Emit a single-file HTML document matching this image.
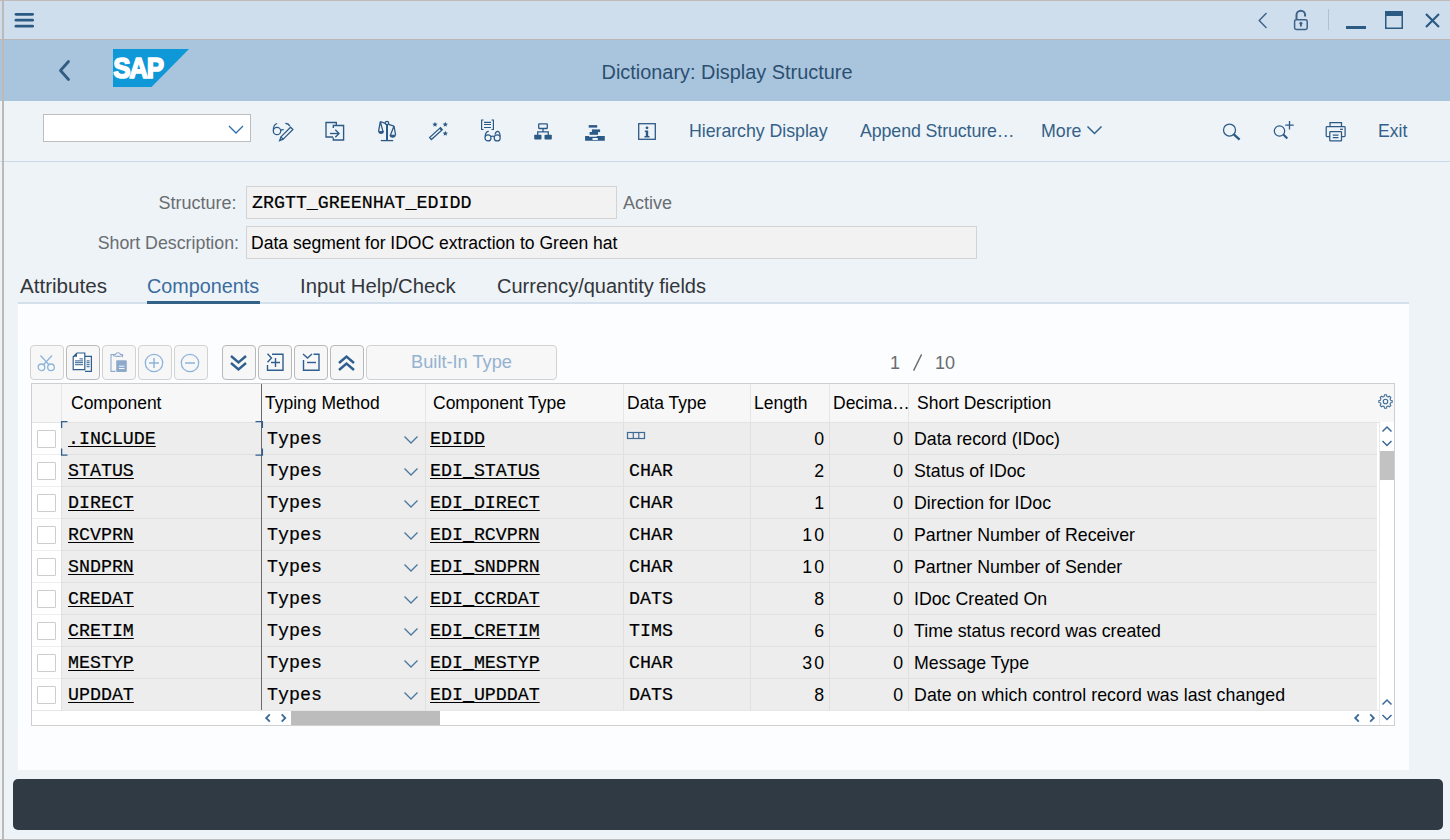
<!DOCTYPE html>
<html><head><meta charset="utf-8"><style>
*{margin:0;padding:0;box-sizing:border-box}
html,body{width:1450px;height:840px;overflow:hidden;background:#eef3f8;font-family:"Liberation Sans",sans-serif;}
.a{position:absolute;white-space:nowrap}
.mono{font-family:"Liberation Mono",monospace;-webkit-text-stroke:0.2px #000}
.tbtxt{font-size:17.8px;color:#346187;top:120.8px;line-height:20px}
.lbl{font-size:18px;color:#6a6d70;line-height:20px}
.tab{font-size:19.5px;color:#32363a;top:275.5px;line-height:20px}
.tbtn{top:345px;height:35px;width:34px;background:#f7f7f7;border:1px solid #d2d2d2;border-radius:4px}
.tbtn.en{border-color:#b9b9b9}
.hd{font-size:17.5px;color:#000;line-height:20px;top:393px}
.td{height:32px;line-height:32px;font-size:17.75px;color:#000}
.tm{height:32px;line-height:35px;font-size:18.3px;color:#000}
.lnk{text-decoration:underline;text-underline-offset:2px;text-decoration-thickness:1.2px}
.cbx{width:19px;height:18px;background:#fff;border:1px solid #cdcdcd;border-radius:1px}
svg{overflow:visible}
</style></head><body>
<div class="a" style="left:0;top:0;width:1450px;height:40px;background:#cfdeec;border-top:1px solid #bfbab7;border-bottom:1px solid #b9b6b5"></div>
<div class="a" style="left:0;top:40px;width:1450px;height:61px;background:#a9c5de"></div>
<div class="a" style="left:0;top:101px;width:1450px;height:61px;background:#eef3f8;border-bottom:1px solid #c9dbea"></div>
<div class="a" style="left:18px;top:304px;width:1391px;height:466px;background:#fcfdfe"></div>
<div class="a" style="left:18px;top:302px;width:1391px;height:2px;background:#d4e1ed"></div>
<div class="a" style="left:13px;top:779px;width:1430px;height:51px;background:#2f3a45;border-radius:5px"></div>
<div class="a" style="left:0;top:839px;width:1450px;height:1px;background:#bdbdbd"></div>
<div class="a" style="left:2px;top:0;width:2px;height:840px;background:#bcb9b7;z-index:50"></div>
<svg class="a" style="left:12px;top:12px" width="24" height="17" viewBox="0 0 24 17"><g stroke="#2b5a82" stroke-width="2.8" stroke-linecap="round"><line x1="4" y1="2.3" x2="20.6" y2="2.3"/><line x1="4" y1="8.2" x2="20.6" y2="8.2"/><line x1="4" y1="14.2" x2="20.6" y2="14.2"/></g></svg>
<svg class="a" style="left:1256px;top:11px" width="14" height="19" viewBox="0 0 14 19"><path d="M10.5 2 L3.2 9.5 L10.5 17" fill="none" stroke="#3d6288" stroke-width="1.4"/></svg>
<svg class="a" style="left:1292px;top:9px" width="18" height="22" viewBox="0 0 18 22"><path d="M4.5 10 V6 A4.3 4.3 0 0 1 13.1 6 V7.5" fill="none" stroke="#3d6288" stroke-width="2"/><rect x="2.6" y="10.8" width="12.6" height="9.6" rx="1.6" fill="none" stroke="#3d6288" stroke-width="1.5"/><circle cx="8.9" cy="14.3" r="1.5" fill="#3d6288"/><rect x="8" y="14.3" width="1.8" height="3.3" fill="#3d6288"/></svg>
<div class="a" style="left:1328px;top:9px;width:1px;height:21px;background:#b4bfcb"></div>
<div class="a" style="left:1346px;top:26px;width:20px;height:3px;background:#2b5a82"></div>
<svg class="a" style="left:1385px;top:11px" width="18" height="18" viewBox="0 0 18 18"><rect x="0.75" y="0.75" width="16.5" height="16.5" fill="none" stroke="#2b5a82" stroke-width="1.5"/><rect x="0" y="0" width="18" height="5" fill="#2b5a82"/></svg>
<svg class="a" style="left:1425px;top:13px" width="15" height="15" viewBox="0 0 15 15"><path d="M1 1 L14 14 M14 1 L1 14" stroke="#2b5a82" stroke-width="2.2"/></svg>
<svg class="a" style="left:56px;top:58px" width="18" height="26" viewBox="0 0 18 26"><path d="M12.5 3.5 L4.5 12.5 L12.5 21.5" fill="none" stroke="#345b82" stroke-width="2.8" stroke-linecap="round" stroke-linejoin="round"/></svg>
<svg class="a" style="left:113px;top:49px" width="76" height="38" viewBox="0 0 76 38"><polygon points="0,0 76,0 38.5,38 0,38" fill="#0f98d8"/><text transform="scale(0.865,1)" x="0.3" y="29" font-family="Liberation Sans" font-weight="bold" font-size="30" fill="#fff" stroke="#fff" stroke-width="1.7" stroke-linejoin="round" letter-spacing="-1.4">SAP</text></svg>
<div class="a" style="left:0;top:60.7px;width:1450px;text-align:center;font-size:19.9px;line-height:22px;color:#2c4f70;padding-left:4px">Dictionary: Display Structure</div>
<div class="a" style="left:43px;top:114px;width:208px;height:28px;background:#fff;border:1px solid #bdbdbd"></div>
<svg class="a" style="left:226px;top:123px" width="20" height="12" viewBox="0 0 20 12"><path d="M3 3 L10 10 L17 3" fill="none" stroke="#3470aa" stroke-width="1.4"/></svg>
<svg class="a" style="left:272px;top:121px" width="22" height="21" viewBox="0 0 22 21"><g fill="none" stroke="#2c5a86" stroke-width="1.25"><circle cx="5" cy="10" r="3.7"/><path d="M1.4 9.5 Q1.3 3.2 5.2 2.5"/><path d="M13.3 2.3 Q16.8 2.3 17.8 5.3"/><path d="M8.6 9.3 Q10.2 8 11.8 9"/><path d="M18.6 6.2 L20.9 8.5 L11.2 18.2 L8.9 15.9 Z"/><path d="M8.9 15.9 L7.6 19.6 L11.2 18.2"/></g><path d="M7.6 19.6 L8.4 17.4 L9.8 18.8Z" fill="#2c5a86"/></svg>
<svg class="a" style="left:324px;top:121px" width="22" height="21" viewBox="0 0 22 21"><g fill="none" stroke="#2c5a86" stroke-width="1.35"><path d="M9 16 H2 V1.5 H12.3 V4.5"/><path d="M9.3 7 V4.5 H19.6 V19 H9.3 V16.5"/><path d="M6 12.5 H15"/><path d="M11.3 8.8 L15 12.5 L11.3 16.2"/></g></svg>
<svg class="a" style="left:377px;top:120px" width="20" height="22" viewBox="0 0 20 22"><g fill="none" stroke="#2c5a86" stroke-width="1.3"><circle cx="10" cy="3" r="1.7"/><path d="M3.3 1.7 L8.4 3.3 M11.6 4.3 L17 6.1"/><path d="M10 4.7 V20.5"/><path d="M3.8 20.6 H16.2"/><path d="M3.3 1.7 L1.6 11.2 M3.3 1.7 L5.9 11.2"/><path d="M17 6.1 L13.5 15 M17 6.1 L18.6 15"/></g><path d="M10 4.7 V20.5" stroke="#2c5a86" stroke-width="2"/><path d="M1.1 11 H7 Q6.8 14 4.05 14 Q1.3 14 1.1 11Z" fill="#2c5a86"/><path d="M12.5 14.8 H18.9 Q18.7 17.8 15.7 17.8 Q12.7 17.8 12.5 14.8Z" fill="#2c5a86"/></svg>
<svg class="a" style="left:429px;top:121px" width="21" height="20" viewBox="0 0 21 20"><path d="M2.4 18.5 L0.6 16.5 L11.5 6.6 L13.3 8.6Z" fill="none" stroke="#2c5a86" stroke-width="1.25"/><path d="M10.3 7.7 L11.5 6.6 L13.3 8.6 L12.1 9.7Z" fill="#2c5a86"/><path d="M6.00 0.70 L6.74 2.48 L8.66 2.63 L7.20 3.89 L7.65 5.77 L6.00 4.76 L4.35 5.77 L4.80 3.89 L3.34 2.63 L5.26 2.48ZM16.30 0.70 L17.04 2.48 L18.96 2.63 L17.50 3.89 L17.95 5.77 L16.30 4.76 L14.65 5.77 L15.10 3.89 L13.64 2.63 L15.56 2.48ZM16.30 9.80 L17.04 11.58 L18.96 11.73 L17.50 12.99 L17.95 14.87 L16.30 13.86 L14.65 14.87 L15.10 12.99 L13.64 11.73 L15.56 11.58Z" fill="#2c5a86"/></svg>
<svg class="a" style="left:480px;top:119px" width="22" height="23" viewBox="0 0 22 23"><g fill="none" stroke="#2c5a86" stroke-width="1.2"><path d="M3.5 1 H1.6 V10.5 H3.5"/><path d="M11.5 1 H13.4 V10.5 H11.5"/><path d="M4 3.3 H11 M4 5.5 H11 M4 8.5 H11"/><circle cx="8" cy="18.9" r="3"/><circle cx="17.2" cy="18.9" r="3"/><path d="M11 17.6 Q12.6 16.6 14.2 17.6"/><path d="M5.2 17.5 Q5.3 12.3 8.8 12.3"/><path d="M15 15.5 Q15.7 12.2 18 12.4 Q19.8 12.8 20.2 17.5"/></g></svg>
<svg class="a" style="left:533px;top:122px" width="20" height="19" viewBox="0 0 20 19"><rect x="5.7" y="1.9" width="8.6" height="4.6" rx="0.5" fill="none" stroke="#2c5a86" stroke-width="1.3"/><path d="M10 6.5 V9.8 M4.7 13 V9.8 H15.3 V13" fill="none" stroke="#2c5a86" stroke-width="1.3"/><rect x="1.2" y="12.8" width="7.3" height="4.8" rx="0.8" fill="#2c5a86"/><rect x="11.5" y="12.8" width="7.3" height="4.8" rx="0.8" fill="#2c5a86"/></svg>
<svg class="a" style="left:584px;top:123px" width="22" height="19" viewBox="0 0 22 19"><g fill="#2c5a86"><rect x="4.7" y="2.1" width="8.5" height="2.5"/><rect x="7.9" y="6.4" width="8.2" height="2.7"/><rect x="5.6" y="9" width="8.4" height="2.8"/><path d="M1.1 13 H5 V13.8 H12.7 V13 H20.8 V17.8 H1.1Z M8.5 15.1 V16.9 H13.8 V15.1Z" fill-rule="evenodd"/></g></svg>
<svg class="a" style="left:638px;top:123px" width="18" height="18" viewBox="0 0 18 18"><rect x="0.7" y="0.7" width="16.6" height="15.6" fill="none" stroke="#2c5a86" stroke-width="1.3"/><circle cx="9" cy="4.8" r="1.4" fill="#2c5a86"/><path d="M6.8 7.5 H10.2 V13 H11.5 V14.5 H6.5 V13 H7.8 V9 H6.8Z" fill="#2c5a86"/></svg>
<div class="a tbtxt" style="left:689px;letter-spacing:-0.05px">Hierarchy Display</div>
<div class="a tbtxt" style="left:860px;letter-spacing:-0.1px">Append Structure<span style="letter-spacing:-1.5px">…</span></div>
<div class="a tbtxt" style="left:1041px">More</div>
<svg class="a" style="left:1086px;top:124px" width="18" height="12" viewBox="0 0 18 12"><path d="M1.5 2.5 L8.5 9.5 L15.5 2.5" fill="none" stroke="#346187" stroke-width="1.5"/></svg>
<svg class="a" style="left:1222px;top:123px" width="20" height="18" viewBox="0 0 20 18"><circle cx="7.5" cy="7" r="6" fill="none" stroke="#2c5a86" stroke-width="1.25"/><path d="M11.8 11.3 L17.6 16.6" stroke="#2c5a86" stroke-width="2.3" stroke-linecap="butt"/></svg>
<svg class="a" style="left:1273px;top:120px" width="22" height="21" viewBox="0 0 22 21"><circle cx="6.5" cy="11" r="5.2" fill="none" stroke="#2c5a86" stroke-width="1.25"/><path d="M10.3 14.5 L14.3 18.6" stroke="#2c5a86" stroke-width="2.1"/><path d="M16.5 1 V9.5 M12.3 5.2 H20.7" stroke="#2c5a86" stroke-width="1.3"/></svg>
<svg class="a" style="left:1325px;top:121px" width="22" height="21" viewBox="0 0 22 21"><g fill="none" stroke="#2c5a86" stroke-width="1.25"><path d="M5 5.5 V1.5 H16.5 V5.5"/><path d="M5 15.5 H2 Q1.2 15.5 1.2 14.7 V6.5 Q1.2 5.7 2 5.7 H19.3 Q20.1 5.7 20.1 6.5 V14.7 Q20.1 15.5 19.3 15.5 H16.5"/><rect x="4.8" y="10.5" width="11.7" height="9.3" rx="0.6"/><path d="M7.8 14.2 H13.5 M7.8 16.6 H13.5"/></g><path d="M15 8.3 H18" stroke="#2c5a86" stroke-width="1.2"/></svg>
<div class="a tbtxt" style="left:1378px;font-size:17.6px">Exit</div>
<div class="a lbl" style="left:40px;top:193px;width:196.5px;text-align:right">Structure:</div>
<div class="a" style="left:246px;top:186px;width:371px;height:33px;background:#f2f2f2;border:1px solid #d3d3d3"></div>
<div class="a mono" style="left:252px;top:193px;font-size:18.3px;line-height:20px;color:#000">ZRGTT_GREENHAT_EDIDD</div>
<div class="a lbl" style="left:623px;top:193px">Active</div>
<div class="a lbl" style="left:40px;top:233px;width:199px;text-align:right;font-size:17.8px">Short Description:</div>
<div class="a" style="left:246px;top:226px;width:731px;height:33px;background:#f2f2f2;border:1px solid #d3d3d3"></div>
<div class="a" style="left:251px;top:233px;font-size:17.55px;line-height:20px;color:#000">Data segment for IDOC extraction to Green hat</div>
<div class="a tab" style="left:20px;font-size:20.6px">Attributes</div>
<div class="a tab" style="left:147px;color:#3b6c9e;font-size:19.8px">Components</div>
<div class="a tab" style="left:300px;font-size:20.3px">Input Help/Check</div>
<div class="a tab" style="left:497px;font-size:20px">Currency/quantity fields</div>
<div class="a" style="left:147px;top:301px;width:113px;height:3px;background:#346187"></div>
<div class="a tbtn" style="left:30px"></div>
<div class="a tbtn en" style="left:66px"></div>
<div class="a tbtn" style="left:102px"></div>
<div class="a tbtn" style="left:138px"></div>
<div class="a tbtn" style="left:174px"></div>
<div class="a tbtn en" style="left:222px"></div>
<div class="a tbtn en" style="left:258px"></div>
<div class="a tbtn en" style="left:294px"></div>
<div class="a tbtn en" style="left:330px"></div>
<div class="a tbtn" style="left:366px;width:191px"></div>
<div class="a" style="left:366px;top:352px;width:191px;text-align:center;font-size:18.2px;line-height:20px;color:#94b2d0">Built-In Type</div>
<svg class="a" style="left:37px;top:354px" width="19" height="18" viewBox="0 0 19 18"><g fill="none" stroke="#8db4da" stroke-width="1.3"><circle cx="4.5" cy="13.3" r="3.3"/><circle cx="14" cy="13.3" r="3.3"/><path d="M6.5 10.8 L15 1.5 M12 10.8 L3.5 1.5"/></g></svg>
<svg class="a" style="left:72px;top:352px" width="21" height="21" viewBox="0 0 21 21"><path d="M12.5 4.3 H19.4 V19.3 H13" fill="none" stroke="#2f5f8f" stroke-width="1.2"/><path d="M5 1 H12.8 V17.7 H1.2 V4.8Z" fill="#fff" stroke="#2f5f8f" stroke-width="1.2"/><path d="M1.2 4.8 H5 V1Z" fill="#2f5f8f"/><path d="M7.5 6.9 H11 M3 8.9 H11 M3 10.7 H11 M3 12.7 H11" stroke="#2f5f8f" stroke-width="1"/><path d="M14.6 8.9 H17.6 M14.6 10.7 H17.6 M14.6 12.7 H17.6 M14.6 14.7 H17.6" stroke="#2f5f8f" stroke-width="1"/></svg>
<svg class="a" style="left:110px;top:352px" width="18" height="21" viewBox="0 0 18 21"><path d="M3.5 2.5 H1 V19.4 H5.5" fill="none" stroke="#8eaacb" stroke-width="1.1"/><path d="M12.5 5.3 V2.5 H10.5 Q10 0.8 8 0.8 Q6 0.8 5.5 2.5 H3.5 V3.8 Q8 5 12.5 3.8" fill="none" stroke="#8eaacb" stroke-width="1.1"/><rect x="6.2" y="8.3" width="10.6" height="11.6" rx="1" fill="#8eaacb"/><path d="M9 14.2 H14.5 M9 16.5 H14.5" stroke="#f7f7f7" stroke-width="1"/></svg>
<svg class="a" style="left:144px;top:353px" width="20" height="20" viewBox="0 0 20 20"><circle cx="10" cy="10" r="8.7" fill="none" stroke="#8db4da" stroke-width="1.3"/><path d="M10 5 V15 M5 10 H15" stroke="#8db4da" stroke-width="1.5"/></svg>
<svg class="a" style="left:180px;top:353px" width="20" height="20" viewBox="0 0 20 20"><circle cx="10" cy="10" r="8.7" fill="none" stroke="#8db4da" stroke-width="1.3"/><path d="M5 10 H15" stroke="#8db4da" stroke-width="1.5"/></svg>
<svg class="a" style="left:229px;top:354px" width="19" height="18" viewBox="0 0 19 18"><g fill="none" stroke="#2f5f8f" stroke-width="2.4"><path d="M2 2 L9.5 8.5 L17 2"/><path d="M2 9 L9.5 15.5 L17 9"/></g></svg>
<svg class="a" style="left:266px;top:353px" width="19" height="19" viewBox="0 0 19 19"><g fill="none" stroke="#2f5f8f" stroke-width="1.4"><path d="M1.5 0.8 L5.5 5 L1.5 9.2"/><path d="M6 1.3 H17 V17.3 H1.5 V12"/><path d="M9.5 5 V14 M5 9.5 H14"/></g></svg>
<svg class="a" style="left:302px;top:353px" width="19" height="19" viewBox="0 0 19 19"><g fill="none" stroke="#2f5f8f" stroke-width="1.4"><path d="M1 1 L5.5 5 L10 1"/><path d="M11.5 1.3 H17 V17.3 H1.5 V7"/><path d="M5 9.5 H14"/></g></svg>
<svg class="a" style="left:337px;top:354px" width="19" height="18" viewBox="0 0 19 18"><g fill="none" stroke="#2f5f8f" stroke-width="2.4"><path d="M2 9 L9.5 2.5 L17 9"/><path d="M2 16 L9.5 9.5 L17 16"/></g></svg>
<div class="a" style="left:890px;top:353px;font-size:18px;line-height:20px;color:#6a6d70">1</div>
<svg class="a" style="left:911px;top:354px" width="12" height="17" viewBox="0 0 12 17"><path d="M2.6 16.6 L10.6 0.4" stroke="#6a6d70" stroke-width="1.4"/></svg>
<div class="a" style="left:935px;top:353px;font-size:18px;line-height:20px;color:#6a6d70">10</div>
<div class="a" style="left:31px;top:383px;width:1364px;height:343px;background:#fff;border:1px solid #cfcfcf"></div>
<div class="a" style="left:32px;top:384px;width:1362px;height:39px;background:#f7f7f7;border-bottom:1px solid #e3e3e3"></div>
<div class="a hd" style="left:71px">Component</div>
<div class="a hd" style="left:265px">Typing Method</div>
<div class="a hd" style="left:433px">Component Type</div>
<div class="a hd" style="left:627px">Data Type</div>
<div class="a hd" style="left:754px">Length</div>
<div class="a hd" style="left:833px">Decima<span style="letter-spacing:-1px">…</span></div>
<div class="a hd" style="left:917px">Short Description</div>
<div class="a" style="left:61px;top:384px;width:1px;height:38px;background:#e6e6e6"></div>
<div class="a" style="left:425px;top:384px;width:1px;height:38px;background:#e6e6e6"></div>
<div class="a" style="left:623px;top:384px;width:1px;height:38px;background:#e6e6e6"></div>
<div class="a" style="left:750px;top:384px;width:1px;height:38px;background:#e6e6e6"></div>
<div class="a" style="left:829px;top:384px;width:1px;height:38px;background:#e6e6e6"></div>
<div class="a" style="left:908px;top:384px;width:1px;height:38px;background:#e6e6e6"></div>
<div class="a" style="left:62px;top:423px;width:1315px;height:32px;background:#ededed;border-bottom:1px solid #e0e0e0"></div>
<div class="a" style="left:32px;top:423px;width:29px;height:32px;background:#fff;border-bottom:1px solid #ededed"></div>
<div class="a cbx" style="left:37px;top:430px"></div>
<div class="a mono lnk tm" style="left:68px;top:422px">.INCLUDE</div>
<div class="a mono tm" style="left:267px;top:422px">Types</div>
<svg class="a" style="left:403px;top:435px" width="16" height="10" viewBox="0 0 16 10"><path d="M1.5 1.5 L8 8 L14.5 1.5" fill="none" stroke="#4a76a2" stroke-width="1.3"/></svg>
<div class="a mono lnk tm" style="left:430px;top:422px">EDIDD</div>
<svg class="a" style="left:626px;top:431px" width="20" height="9" viewBox="0 0 20 9"><rect x="1.5" y="1.5" width="17" height="6" fill="none" stroke="#3f6a96" stroke-width="1.2"/><line x1="7.3" y1="1.5" x2="7.3" y2="7.5" stroke="#3f6a96" stroke-width="1.2"/><line x1="12.8" y1="1.5" x2="12.8" y2="7.5" stroke="#3f6a96" stroke-width="1.2"/></svg>
<div class="a td" style="left:750px;top:423px;width:74px;text-align:right">0</div>
<div class="a td" style="left:829px;top:423px;width:74px;text-align:right">0</div>
<div class="a td" style="left:914px;top:423px">Data record (IDoc)</div>
<div class="a" style="left:62px;top:455px;width:1315px;height:32px;background:#ededed;border-bottom:1px solid #e0e0e0"></div>
<div class="a" style="left:32px;top:455px;width:29px;height:32px;background:#fff;border-bottom:1px solid #ededed"></div>
<div class="a cbx" style="left:37px;top:462px"></div>
<div class="a mono lnk tm" style="left:68px;top:454px">STATUS</div>
<div class="a mono tm" style="left:267px;top:454px">Types</div>
<svg class="a" style="left:403px;top:467px" width="16" height="10" viewBox="0 0 16 10"><path d="M1.5 1.5 L8 8 L14.5 1.5" fill="none" stroke="#4a76a2" stroke-width="1.3"/></svg>
<div class="a mono lnk tm" style="left:430px;top:454px">EDI_STATUS</div>
<div class="a mono tm" style="left:629px;top:454px">CHAR</div>
<div class="a td" style="left:750px;top:455px;width:74px;text-align:right">2</div>
<div class="a td" style="left:829px;top:455px;width:74px;text-align:right">0</div>
<div class="a td" style="left:914px;top:455px">Status of IDoc</div>
<div class="a" style="left:62px;top:487px;width:1315px;height:32px;background:#ededed;border-bottom:1px solid #e0e0e0"></div>
<div class="a" style="left:32px;top:487px;width:29px;height:32px;background:#fff;border-bottom:1px solid #ededed"></div>
<div class="a cbx" style="left:37px;top:494px"></div>
<div class="a mono lnk tm" style="left:68px;top:486px">DIRECT</div>
<div class="a mono tm" style="left:267px;top:486px">Types</div>
<svg class="a" style="left:403px;top:499px" width="16" height="10" viewBox="0 0 16 10"><path d="M1.5 1.5 L8 8 L14.5 1.5" fill="none" stroke="#4a76a2" stroke-width="1.3"/></svg>
<div class="a mono lnk tm" style="left:430px;top:486px">EDI_DIRECT</div>
<div class="a mono tm" style="left:629px;top:486px">CHAR</div>
<div class="a td" style="left:750px;top:487px;width:74px;text-align:right">1</div>
<div class="a td" style="left:829px;top:487px;width:74px;text-align:right">0</div>
<div class="a td" style="left:914px;top:487px">Direction for IDoc</div>
<div class="a" style="left:62px;top:519px;width:1315px;height:32px;background:#ededed;border-bottom:1px solid #e0e0e0"></div>
<div class="a" style="left:32px;top:519px;width:29px;height:32px;background:#fff;border-bottom:1px solid #ededed"></div>
<div class="a cbx" style="left:37px;top:526px"></div>
<div class="a mono lnk tm" style="left:68px;top:518px">RCVPRN</div>
<div class="a mono tm" style="left:267px;top:518px">Types</div>
<svg class="a" style="left:403px;top:531px" width="16" height="10" viewBox="0 0 16 10"><path d="M1.5 1.5 L8 8 L14.5 1.5" fill="none" stroke="#4a76a2" stroke-width="1.3"/></svg>
<div class="a mono lnk tm" style="left:430px;top:518px">EDI_RCVPRN</div>
<div class="a mono tm" style="left:629px;top:518px">CHAR</div>
<div class="a td" style="left:750px;top:519px;width:74px;text-align:right"><span style="letter-spacing:2px">1</span>0</div>
<div class="a td" style="left:829px;top:519px;width:74px;text-align:right">0</div>
<div class="a td" style="left:914px;top:519px">Partner Number of Receiver</div>
<div class="a" style="left:62px;top:551px;width:1315px;height:32px;background:#ededed;border-bottom:1px solid #e0e0e0"></div>
<div class="a" style="left:32px;top:551px;width:29px;height:32px;background:#fff;border-bottom:1px solid #ededed"></div>
<div class="a cbx" style="left:37px;top:558px"></div>
<div class="a mono lnk tm" style="left:68px;top:550px">SNDPRN</div>
<div class="a mono tm" style="left:267px;top:550px">Types</div>
<svg class="a" style="left:403px;top:563px" width="16" height="10" viewBox="0 0 16 10"><path d="M1.5 1.5 L8 8 L14.5 1.5" fill="none" stroke="#4a76a2" stroke-width="1.3"/></svg>
<div class="a mono lnk tm" style="left:430px;top:550px">EDI_SNDPRN</div>
<div class="a mono tm" style="left:629px;top:550px">CHAR</div>
<div class="a td" style="left:750px;top:551px;width:74px;text-align:right"><span style="letter-spacing:2px">1</span>0</div>
<div class="a td" style="left:829px;top:551px;width:74px;text-align:right">0</div>
<div class="a td" style="left:914px;top:551px">Partner Number of Sender</div>
<div class="a" style="left:62px;top:583px;width:1315px;height:32px;background:#ededed;border-bottom:1px solid #e0e0e0"></div>
<div class="a" style="left:32px;top:583px;width:29px;height:32px;background:#fff;border-bottom:1px solid #ededed"></div>
<div class="a cbx" style="left:37px;top:590px"></div>
<div class="a mono lnk tm" style="left:68px;top:582px">CREDAT</div>
<div class="a mono tm" style="left:267px;top:582px">Types</div>
<svg class="a" style="left:403px;top:595px" width="16" height="10" viewBox="0 0 16 10"><path d="M1.5 1.5 L8 8 L14.5 1.5" fill="none" stroke="#4a76a2" stroke-width="1.3"/></svg>
<div class="a mono lnk tm" style="left:430px;top:582px">EDI_CCRDAT</div>
<div class="a mono tm" style="left:629px;top:582px">DATS</div>
<div class="a td" style="left:750px;top:583px;width:74px;text-align:right">8</div>
<div class="a td" style="left:829px;top:583px;width:74px;text-align:right">0</div>
<div class="a td" style="left:914px;top:583px">IDoc Created On</div>
<div class="a" style="left:62px;top:615px;width:1315px;height:32px;background:#ededed;border-bottom:1px solid #e0e0e0"></div>
<div class="a" style="left:32px;top:615px;width:29px;height:32px;background:#fff;border-bottom:1px solid #ededed"></div>
<div class="a cbx" style="left:37px;top:622px"></div>
<div class="a mono lnk tm" style="left:68px;top:614px">CRETIM</div>
<div class="a mono tm" style="left:267px;top:614px">Types</div>
<svg class="a" style="left:403px;top:627px" width="16" height="10" viewBox="0 0 16 10"><path d="M1.5 1.5 L8 8 L14.5 1.5" fill="none" stroke="#4a76a2" stroke-width="1.3"/></svg>
<div class="a mono lnk tm" style="left:430px;top:614px">EDI_CRETIM</div>
<div class="a mono tm" style="left:629px;top:614px">TIMS</div>
<div class="a td" style="left:750px;top:615px;width:74px;text-align:right">6</div>
<div class="a td" style="left:829px;top:615px;width:74px;text-align:right">0</div>
<div class="a td" style="left:914px;top:615px">Time status record was created</div>
<div class="a" style="left:62px;top:647px;width:1315px;height:32px;background:#ededed;border-bottom:1px solid #e0e0e0"></div>
<div class="a" style="left:32px;top:647px;width:29px;height:32px;background:#fff;border-bottom:1px solid #ededed"></div>
<div class="a cbx" style="left:37px;top:654px"></div>
<div class="a mono lnk tm" style="left:68px;top:646px">MESTYP</div>
<div class="a mono tm" style="left:267px;top:646px">Types</div>
<svg class="a" style="left:403px;top:659px" width="16" height="10" viewBox="0 0 16 10"><path d="M1.5 1.5 L8 8 L14.5 1.5" fill="none" stroke="#4a76a2" stroke-width="1.3"/></svg>
<div class="a mono lnk tm" style="left:430px;top:646px">EDI_MESTYP</div>
<div class="a mono tm" style="left:629px;top:646px">CHAR</div>
<div class="a td" style="left:750px;top:647px;width:74px;text-align:right"><span style="letter-spacing:2px">3</span>0</div>
<div class="a td" style="left:829px;top:647px;width:74px;text-align:right">0</div>
<div class="a td" style="left:914px;top:647px">Message Type</div>
<div class="a" style="left:62px;top:679px;width:1315px;height:32px;background:#ededed;border-bottom:1px solid #e0e0e0"></div>
<div class="a" style="left:32px;top:679px;width:29px;height:32px;background:#fff;border-bottom:1px solid #ededed"></div>
<div class="a cbx" style="left:37px;top:686px"></div>
<div class="a mono lnk tm" style="left:68px;top:678px">UPDDAT</div>
<div class="a mono tm" style="left:267px;top:678px">Types</div>
<svg class="a" style="left:403px;top:691px" width="16" height="10" viewBox="0 0 16 10"><path d="M1.5 1.5 L8 8 L14.5 1.5" fill="none" stroke="#4a76a2" stroke-width="1.3"/></svg>
<div class="a mono lnk tm" style="left:430px;top:678px">EDI_UPDDAT</div>
<div class="a mono tm" style="left:629px;top:678px">DATS</div>
<div class="a td" style="left:750px;top:679px;width:74px;text-align:right">8</div>
<div class="a td" style="left:829px;top:679px;width:74px;text-align:right">0</div>
<div class="a td" style="left:914px;top:679px;letter-spacing:0.07px">Date on which control record was last changed</div>
<div class="a" style="left:61px;top:422px;width:1px;height:288px;background:#e0e0e0"></div>
<div class="a" style="left:425px;top:422px;width:1px;height:288px;background:#e0e0e0"></div>
<div class="a" style="left:623px;top:422px;width:1px;height:288px;background:#e0e0e0"></div>
<div class="a" style="left:750px;top:422px;width:1px;height:288px;background:#e0e0e0"></div>
<div class="a" style="left:829px;top:422px;width:1px;height:288px;background:#e0e0e0"></div>
<div class="a" style="left:908px;top:422px;width:1px;height:288px;background:#e0e0e0"></div>
<div class="a" style="left:261px;top:384px;width:1px;height:326px;background:#6b6b6b"></div>
<svg class="a" style="left:60px;top:420px" width="204" height="36" viewBox="0 0 204 36"><g fill="none" stroke="#2f5f8f" stroke-width="1.3"><path d="M1.6 8 V1.6 H7.5"/><path d="M195.5 1.6 H202.4 V8"/><path d="M1.6 28.5 V35.2 H7.5"/><path d="M195.5 35.2 H202.4 V28.5"/></g></svg>
<div class="a" style="left:1379px;top:422px;width:15px;height:303px;background:#fff;border-left:1px solid #e8e8e8"></div>
<svg class="a" style="left:1381px;top:425px" width="12" height="24" viewBox="0 0 12 24"><g fill="none" stroke="#3b6a98" stroke-width="1.5"><path d="M1.5 6.5 L6 2 L10.5 6.5"/><path d="M1.5 16 L6 20.5 L10.5 16"/></g></svg>
<div class="a" style="left:1380px;top:451px;width:14px;height:29px;background:#c2c2c2"></div>
<svg class="a" style="left:1381px;top:698px" width="12" height="24" viewBox="0 0 12 24"><g fill="none" stroke="#3b6a98" stroke-width="1.5"><path d="M1.5 6.5 L6 2 L10.5 6.5"/><path d="M1.5 17 L6 21.5 L10.5 17"/></g></svg>
<div class="a" style="left:32px;top:710px;width:1347px;height:15px;background:#fff;border-top:1px solid #e6e6e6"></div>
<svg class="a" style="left:262px;top:712px" width="28" height="12" viewBox="0 0 28 12"><g fill="none" stroke="#3b6a98" stroke-width="1.8"><path d="M7.8 2.3 L4.2 6 L7.8 9.7"/><path d="M19.7 2.3 L23.3 6 L19.7 9.7"/></g></svg>
<div class="a" style="left:291px;top:711px;width:149px;height:14px;background:#bcbcbc"></div>
<svg class="a" style="left:1350px;top:712px" width="28" height="12" viewBox="0 0 28 12"><g fill="none" stroke="#3b6a98" stroke-width="1.8"><path d="M8.8 2.3 L5.2 6 L8.8 9.7"/><path d="M20.2 2.3 L23.8 6 L20.2 9.7"/></g></svg>
<svg class="a" style="left:1378px;top:394px" width="15" height="15" viewBox="0 0 16 16"><path d="M6.61 2.58 L6.87 0.89 L9.13 0.89 L9.39 2.58 L10.85 3.18 L12.23 2.18 L13.82 3.77 L12.82 5.15 L13.42 6.61 L15.11 6.87 L15.11 9.13 L13.42 9.39 L12.82 10.85 L13.82 12.23 L12.23 13.82 L10.85 12.82 L9.39 13.42 L9.13 15.11 L6.87 15.11 L6.61 13.42 L5.15 12.82 L3.77 13.82 L2.18 12.23 L3.18 10.85 L2.58 9.39 L0.89 9.13 L0.89 6.87 L2.58 6.61 L3.18 5.15 L2.18 3.77 L3.77 2.18 L5.15 3.18Z" fill="none" stroke="#3b6a98" stroke-width="1.1" stroke-linejoin="round"/><circle cx="8" cy="8" r="2.4" fill="none" stroke="#3b6a98" stroke-width="1.2"/></svg>
</body></html>
